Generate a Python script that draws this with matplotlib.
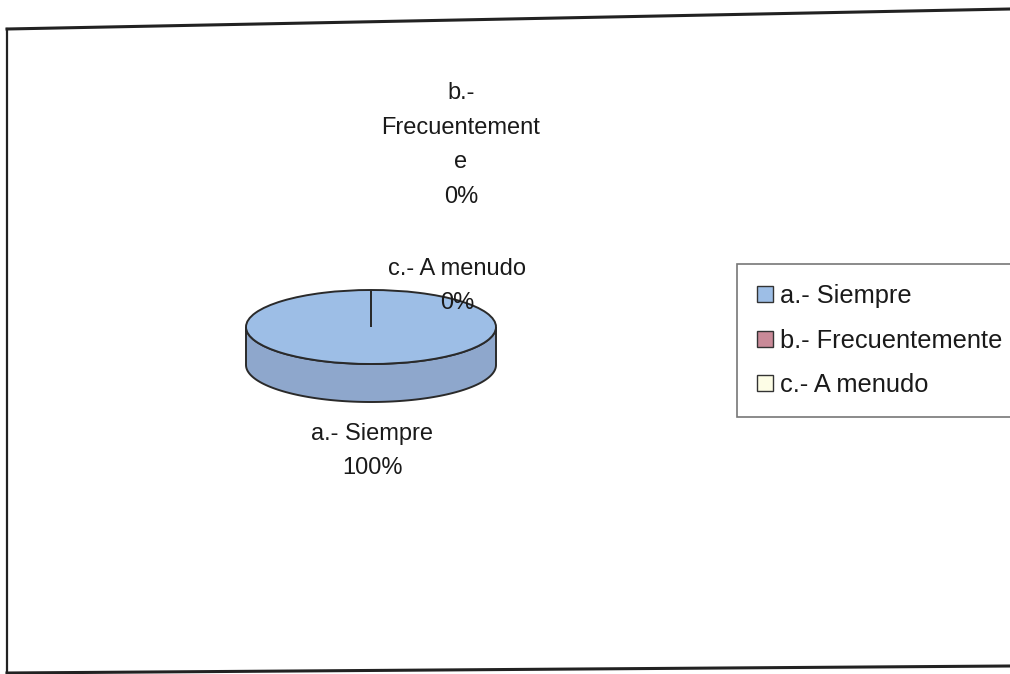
import matplotlib.pyplot as plt
import numpy as np
from matplotlib.patches import Patch

plt.rcParams['font.family'] = ['Liberation Sans', 'DejaVu Sans']

# datos de la encuesta
categorias = ['a.- Siempre', 'b.- Frecuentemente', 'c.- A menudo']
etiquetas = ['a.- Siempre', 'b.-\nFrecuentement\ne', 'c.- A menudo']
valores = [100, 0, 0]
colores = ['#9dbee6', '#c98a98', '#fdfde6']
color_lado = '#8ea7cc'

fig = plt.figure(figsize=(10.1, 6.74), dpi=100)

# torta 3D: centro (371, 327), radios 125 x 37, grosor 38 px
cx, cy, rx, ry, prof = 371, 327, 125, 37, 38
d = prof / ry
axp = fig.add_axes([(cx - rx) / 1010, 1 - (cy + ry + prof) / 674,
                    2 * rx / 1010, (2 * ry + prof) / 674])
t = np.linspace(np.pi, 2 * np.pi, 100)
xs = np.concatenate([np.cos(t), np.cos(t[::-1])])
ys = np.concatenate([np.sin(t), np.sin(t[::-1]) - d])
axp.fill(xs, ys, color=color_lado, ec='#2a2a2a', lw=1.4, zorder=1, clip_on=False)
wedges, _ = axp.pie(valores, colors=colores, startangle=90, counterclock=False,
                    wedgeprops=dict(edgecolor='#2a2a2a', linewidth=1.4))
for w in wedges:
    w.set_zorder(2)
    w.set_clip_on(False)
axp.set_aspect('auto')
axp.set_xlim(-1, 1)
axp.set_ylim(-1 - d, 1)
axp.axis('off')

# capa superior en coordenadas de pixel (marco, etiquetas, leyenda)
ax = fig.add_axes([0, 0, 1, 1])
ax.set_zorder(5)
ax.set_xlim(0, 1010)
ax.set_ylim(674, 0)
ax.axis('off')
ax.plot([7, 1010], [29, 9], color='#222222', lw=2.2)
ax.plot([7, 7], [29, 674], color='#222222', lw=1.6)
ax.plot([7, 1010], [673, 666], color='#222222', lw=2.2)

# etiquetas de datos
total = sum(valores)
pos_etq = [(372, 451), (461, 145), (457, 286)]
for etq, v, (x, y) in zip(etiquetas, valores, pos_etq):
    ax.text(x, y, f'{etq}\n{round(100 * v / total)}%', ha='center', va='center',
            fontsize=17, color='#1a1a1a', linespacing=1.75)

# leyenda
handles = [Patch(facecolor=c, edgecolor='#333333', lw=1) for c in colores]
leg = ax.legend(handles, categorias, loc='upper left',
                bbox_to_anchor=(737 / 1010, 1 - 264 / 674), fontsize=18.3,
                frameon=True, fancybox=False, handlelength=0.6, handleheight=0.6,
                handletextpad=0.3, labelspacing=0.8, borderpad=0.8,
                borderaxespad=0)
leg.get_frame().set_edgecolor('#555555')
leg.get_frame().set_linewidth(1.2)
for txt in leg.get_texts():
    txt.set_color('#1a1a1a')

fig.savefig('out.png', dpi=100)
